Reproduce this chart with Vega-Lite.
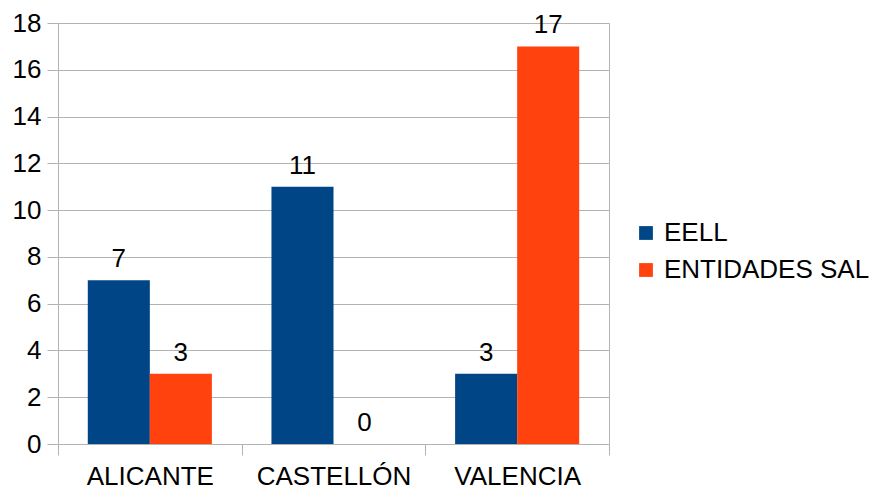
{
  "$schema": "https://vega.github.io/schema/vega-lite/v6.json",
  "autosize": "none",
  "padding": {"left": 58, "top": 23, "right": 262, "bottom": 46},
  "width": 551,
  "height": 421,
  "background": "white",
  "config": {
    "font": "Liberation Sans",
    "view": {"stroke": "#b3b3b3", "strokeWidth": 1},
    "axis": {
      "labelFont": "Liberation Sans",
      "labelFontSize": 26,
      "labelColor": "#000000",
      "domainColor": "#b3b3b3",
      "tickColor": "#b3b3b3",
      "gridColor": "#b3b3b3",
      "tickSize": 11,
      "title": null
    }
  },
  "data": {
    "values": [
      {"provincia": "ALICANTE", "serie": "EELL", "valor": 7},
      {"provincia": "ALICANTE", "serie": "ENTIDADES SAL", "valor": 3},
      {"provincia": "CASTELLÓN", "serie": "EELL", "valor": 11},
      {"provincia": "CASTELLÓN", "serie": "ENTIDADES SAL", "valor": 0},
      {"provincia": "VALENCIA", "serie": "EELL", "valor": 3},
      {"provincia": "VALENCIA", "serie": "ENTIDADES SAL", "valor": 17}
    ]
  },
  "encoding": {
    "x": {
      "field": "provincia",
      "type": "nominal",
      "sort": null,
      "scale": {"paddingInner": 0, "paddingOuter": 0},
      "axis": {"labelAngle": 0, "tickBand": "extent", "labelPadding": 8, "grid": false}
    },
    "xOffset": {
      "field": "serie",
      "type": "nominal",
      "sort": null,
      "scale": {"paddingInner": 0, "paddingOuter": 0.48}
    },
    "y": {
      "field": "valor",
      "type": "quantitative",
      "scale": {"domain": [0, 18], "nice": false},
      "axis": {"values": [0, 2, 4, 6, 8, 10, 12, 14, 16, 18], "labelPadding": 6, "grid": true}
    }
  },
  "layer": [
    {
      "mark": {"type": "bar"},
      "encoding": {
        "color": {
          "field": "serie",
          "type": "nominal",
          "sort": null,
          "scale": {"domain": ["EELL", "ENTIDADES SAL"], "range": ["#004586", "#ff420e"]},
          "legend": {
            "title": null,
            "orient": "none",
            "legendX": 575,
            "legendY": 197,
            "padding": 0,
            "symbolType": "square",
            "symbolSize": 190,
            "symbolStrokeWidth": 0,
            "symbolOpacity": 1,
            "labelFont": "Liberation Sans",
            "labelFontSize": 26,
            "labelColor": "#000000",
            "labelOffset": 5,
            "labelLimit": 0,
            "rowPadding": 11
          }
        }
      }
    },
    {
      "mark": {"type": "text", "baseline": "alphabetic", "dy": -13, "fontSize": 26, "font": "Liberation Sans", "color": "#000000"},
      "encoding": {
        "text": {"field": "valor", "type": "quantitative"}
      }
    }
  ]
}
